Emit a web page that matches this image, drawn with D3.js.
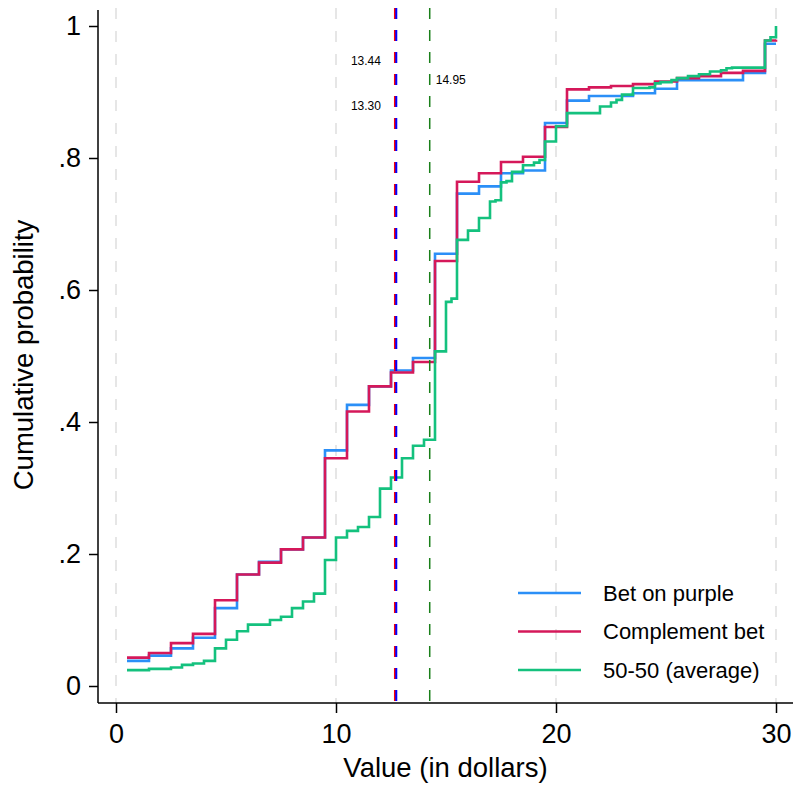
<!DOCTYPE html>
<html lang="en">
<head>
<meta charset="UTF-8">
<title>Cumulative probability</title>
<script src="https://d3js.org/d3.v7.min.js"></script>
<style>
  body { margin: 0; background: #fff; font-family: "Liberation Sans", Arial, sans-serif; }
  svg text { fill: #000; }
</style>
</head>
<body>
<div id="chart"></div>
<script>
// step positions (dollars) for the two bets
const betX = [0.5, 1.5, 2.5, 3.5, 4.5, 5.5, 6.5, 7.5, 8.5, 9.5, 10.5, 11.5, 12.5, 13.5, 14.5,
              15.5, 16.5, 17.5, 18.5, 19.5, 20.5, 21.5, 22.5, 23.5, 24.5, 25.5, 26.5, 27.5, 28.5, 29.5, 30];
const purpleP = [0.038, 0.046, 0.057, 0.073, 0.118, 0.169, 0.188, 0.207, 0.225, 0.357, 0.426, 0.454, 0.478, 0.497, 0.655,
                 0.746, 0.757, 0.777, 0.781, 0.853, 0.887, 0.894, 0.894, 0.898, 0.905, 0.918, 0.918, 0.918, 0.929, 0.973, 0.973];
const complementP = [0.043, 0.050, 0.065, 0.079, 0.130, 0.169, 0.187, 0.207, 0.225, 0.345, 0.416, 0.454, 0.475, 0.491, 0.644,
                     0.764, 0.777, 0.794, 0.802, 0.847, 0.904, 0.907, 0.909, 0.912, 0.916, 0.921, 0.924, 0.929, 0.932, 0.978, 0.979];

// 50-50 average steps
const avgX = [0.5, 1.5, 2.5, 3, 3.5, 4, 4.5, 5, 5.5, 6, 7, 7.5, 8, 8.5, 9, 9.5, 10, 10.5, 11, 11.5, 12, 12.5, 13, 13.5, 14,
              14.5, 15, 15.25, 15.5, 16, 16.5, 17, 17.25, 17.5, 17.75, 18, 18.5, 19, 19.25, 19.5, 20, 20.5, 22, 22.5, 22.75,
              23, 23.5, 24.25, 24.5, 24.75, 25.25, 25.5, 26, 26.5, 27, 27.5, 27.75, 28, 29.5, 29.75, 30];
const avgP = [0.024, 0.026, 0.028, 0.032, 0.034, 0.038, 0.057, 0.070, 0.083, 0.093, 0.100, 0.105, 0.118, 0.128, 0.140, 0.191,
              0.225, 0.235, 0.241, 0.256, 0.299, 0.316, 0.345, 0.364, 0.373,
              0.507, 0.582, 0.587, 0.676, 0.690, 0.709, 0.734, 0.736, 0.763, 0.765, 0.779, 0.789, 0.793, 0.797, 0.825, 0.848,
              0.868, 0.878, 0.884, 0.888, 0.896, 0.906, 0.907, 0.913, 0.915, 0.918, 0.921, 0.924, 0.927, 0.931, 0.933,
              0.936, 0.937, 0.978, 0.983, 1.0];

const seriesNames = ["Bet on purple", "Complement bet", "50-50 (average)"];
const seriesColors = ["#2b8ff7", "#d5185a", "#14c17e"];

// medians (vertical dashed lines) and their labels
const medianX = [12.68, 12.74, 14.26];
const medianColors = ["#ff0000", "#0000ff", "#1a7f1a"];
const medianLabels = ["13.44", "13.30", "14.95"];
const medianLabelP = [0.948, 0.879, 0.918];

const xTicks = [0, 10, 20, 30];
const yTicks = [0, 0.2, 0.4, 0.6, 0.8, 1];

const W = 793, H = 789;
const svg = d3.select("#chart").append("svg")
    .attr("width", W).attr("height", H);

const x = d3.scaleLinear().domain([0, 30]).range([116, 776]);
const y = d3.scaleLinear().domain([0, 1]).range([686, 26]);

const plotLeft = 98, plotBottom = 703, plotTop = 8;

// light vertical grid
svg.append("g").selectAll("line")
    .data(xTicks)
    .join("line")
    .attr("x1", d => x(d)).attr("x2", d => x(d))
    .attr("y1", plotTop).attr("y2", plotBottom)
    .attr("stroke", "#e6e6e6")
    .attr("stroke-width", 2)
    .attr("stroke-dasharray", "11,12");

// cdf lines
const line = d3.line()
    .x(d => x(d[0]))
    .y(d => y(d[1]))
    .curve(d3.curveStepAfter);

const series = [
    d3.zip(betX, purpleP),
    d3.zip(betX, complementP),
    d3.zip(avgX, avgP)
];

svg.append("g").selectAll("path")
    .data(series)
    .join("path")
    .attr("d", line)
    .attr("fill", "none")
    .attr("stroke", (d, i) => seriesColors[i])
    .attr("stroke-width", 2.6)
    .attr("stroke-linejoin", "miter");

// medians
svg.append("g").selectAll("line")
    .data(medianX)
    .join("line")
    .attr("x1", d => x(d)).attr("x2", d => x(d))
    .attr("y1", plotTop).attr("y2", plotBottom)
    .attr("stroke", (d, i) => medianColors[i])
    .attr("stroke-width", (d, i) => i < 2 ? 2 : 1.5)
    .attr("stroke-dasharray", "11,11");

svg.append("g").selectAll("text")
    .data(medianLabels)
    .join("text")
    .attr("x", (d, i) => i < 2 ? x(medianX[0]) - 14 : x(medianX[2]) + 6)
    .attr("y", (d, i) => y(medianLabelP[i]))
    .attr("dy", "0.35em")
    .attr("text-anchor", (d, i) => i < 2 ? "end" : "start")
    .style("font-size", "12px")
    .text(d => d);

// axes
const yAxis = svg.append("g")
    .attr("transform", `translate(${plotLeft},0)`)
    .call(d3.axisLeft(y).tickValues(yTicks).tickSize(9).tickPadding(8)
        .tickFormat(d => d === 0 ? "0" : d === 1 ? "1" : d3.format(".1f")(d).replace(/^0/, "")));
yAxis.select(".domain").remove();
yAxis.selectAll("line").attr("stroke", "#000").attr("stroke-width", 1.5);
yAxis.selectAll("text").style("font-size", "27px").style("font-family", "'Liberation Sans', Arial, sans-serif");

const xAxis = svg.append("g")
    .attr("transform", `translate(0,${plotBottom})`)
    .call(d3.axisBottom(x).tickValues(xTicks).tickSize(10).tickPadding(11).tickFormat(d3.format("d")));
xAxis.select(".domain").remove();
xAxis.selectAll("line").attr("stroke", "#000").attr("stroke-width", 1.5);
xAxis.selectAll("text").style("font-size", "27px").style("font-family", "'Liberation Sans', Arial, sans-serif");

// axis lines
svg.append("line")
    .attr("x1", plotLeft).attr("x2", plotLeft)
    .attr("y1", 10).attr("y2", plotBottom)
    .attr("stroke", "#000").attr("stroke-width", 1.5);
svg.append("line")
    .attr("x1", plotLeft).attr("x2", W)
    .attr("y1", plotBottom).attr("y2", plotBottom)
    .attr("stroke", "#000").attr("stroke-width", 1.5);

// axis titles
svg.append("text")
    .attr("x", (plotLeft + W) / 2)
    .attr("y", 777)
    .attr("text-anchor", "middle")
    .style("font-size", "27.5px")
    .text("Value (in dollars)");

svg.append("text")
    .attr("transform", `translate(33,355) rotate(-90)`)
    .attr("text-anchor", "middle")
    .style("font-size", "27.5px")
    .text("Cumulative probability");

// legend
const legend = svg.append("g").attr("transform", "translate(518,593)");
const item = legend.selectAll("g")
    .data(seriesNames)
    .join("g")
    .attr("transform", (d, i) => `translate(0,${i * 38.5})`);
item.append("line")
    .attr("x1", 0).attr("x2", 63)
    .attr("stroke", (d, i) => seriesColors[i])
    .attr("stroke-width", 2.6);
item.append("text")
    .attr("x", 85)
    .attr("dy", "0.35em")
    .style("font-size", "22px")
    .text(d => d);
</script>
</body>
</html>
